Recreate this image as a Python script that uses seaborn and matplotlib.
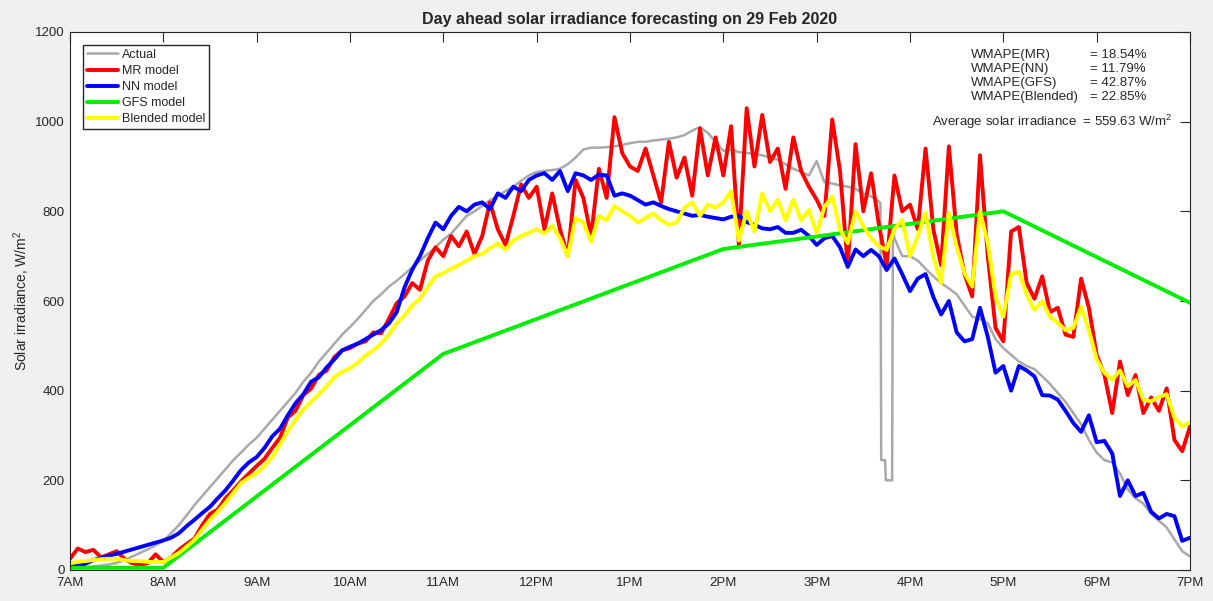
import numpy as np
import pandas as pd
import matplotlib
matplotlib.use("Agg")
import matplotlib.pyplot as plt
import seaborn as sns

# irradiance read every 5 minutes from 7AM to 7PM (W/m2), one row per hour
actual = [
    5, 5, 6, 8, 10, 12, 16, 22, 30, 38, 46, 55,
    65, 82, 100, 122, 145, 165, 185, 205, 225, 245, 262, 280,
    295, 315, 335, 355, 375, 395, 420, 440, 465, 485, 505, 525,
    542, 560, 580, 600, 615, 632, 645, 660, 675, 690, 705, 720,
    737, 750, 770, 790, 800, 812, 825, 835, 845, 855, 868, 880,
    888, 890, 892, 895, 905, 920, 938, 942, 942, 943, 945, 948,
    952, 955, 955, 958, 960, 962, 965, 970, 980, 988, 975, 955,
    935, 938, 932, 930, 928, 925, 920, 915, 905, 895, 888, 880,
    912, 865, 862, 858, 855, 850, 840, 833, 822, 200, 740, 700,
    700, 690, 672, 655, 640, 628, 615, 590, 565, 560, 550, 515,
    495, 480, 465, 455, 448, 432, 415, 395, 375, 350, 325, 290,
    262, 245, 240, 215, 180, 160, 148, 125, 110, 95, 68, 42,
    30,
]
mr_model = [
    25, 48, 40, 45, 28, 35, 42, 25, 15, 12, 15, 35,
    18, 28, 45, 58, 70, 100, 125, 135, 160, 178, 198, 215,
    232, 248, 272, 295, 340, 355, 390, 405, 435, 445, 475, 490,
    495, 505, 510, 530, 528, 560, 595, 610, 640, 625, 690, 720,
    700, 745, 722, 755, 705, 745, 820, 760, 725, 790, 860, 830,
    855, 760, 840, 760, 700, 870, 830, 745, 895, 830, 1010, 930,
    900, 890, 940, 880, 820, 955, 875, 920, 835, 985, 880, 965,
    880, 990, 725, 1030, 900, 1015, 910, 940, 850, 965, 890, 855,
    826, 790, 1005, 890, 680, 950, 800, 885, 770, 680, 880, 800,
    815, 760, 940, 760, 680, 945, 750, 660, 610, 925, 700, 540,
    510, 755, 765, 640, 605, 655, 575, 585, 525, 520, 650, 585,
    480, 435, 350, 465, 390, 435, 350, 385, 355, 405, 290, 265,
    320,
]
nn_model = [
    8, 10, 14, 22, 27, 32, 36, 41, 46, 51, 56, 61,
    66, 72, 82, 98, 112, 127, 141, 160, 178, 200, 223, 240,
    252, 272, 298, 315, 345, 372, 392, 420, 430, 452, 470, 490,
    498, 505, 515, 525, 535, 550, 575, 630, 670, 700, 740, 775,
    760, 790, 810, 800, 815, 820, 805, 840, 830, 855, 845, 870,
    880, 885, 870, 890, 845, 885, 880, 870, 882, 880, 835, 840,
    835, 825, 815, 820, 812, 805, 800, 795, 790, 792, 788, 785,
    782, 788, 790, 776, 770, 762, 760, 765, 752, 752, 759, 745,
    725, 740, 745, 720, 676, 715, 700, 714, 700, 669, 695, 660,
    622, 650, 660, 609, 570, 600, 530, 510, 515, 585, 520, 440,
    455, 400, 455, 445, 432, 390, 389, 380, 355, 328, 308, 345,
    285, 288, 260, 165, 200, 165, 172, 130, 115, 125, 120, 65,
    72,
]
blended_model = [
    15, 18, 20, 22, 24, 25, 25, 22, 20, 20, 18, 18,
    18, 28, 38, 52, 67, 90, 112, 130, 150, 172, 194, 206,
    216, 232, 252, 280, 310, 335, 358, 375, 392, 410, 430, 442,
    450, 462, 478, 490, 505, 525, 550, 568, 590, 605, 630, 655,
    662, 672, 680, 690, 700, 705, 718, 728, 715, 735, 745, 752,
    760, 750, 768, 740, 700, 785, 775, 732, 790, 780, 812, 800,
    790, 775, 785, 795, 780, 770, 775, 808, 820, 790, 815, 808,
    820, 845, 735, 800, 755, 840, 800, 826, 780, 826, 780, 803,
    752, 810, 833, 760, 729, 800, 766, 740, 722, 714, 760, 781,
    700, 745, 797, 699, 640, 797, 721, 662, 632, 800, 729, 609,
    565, 660, 665, 615, 580, 600, 565, 551, 535, 540, 587, 535,
    470, 440, 424, 445, 410, 424, 380, 376, 386, 392, 340, 320,
    330,
]

# short drop-out in the measured data around 3:45PM (minutes after 7AM)
dip_minutes = [521, 521.5, 524, 524.5, 528.5, 529]
dip_values = [818, 245, 245, 200, 200, 760]

# GFS forecast only has a few points over the day
gfs_hours = [7, 8, 11, 14, 17, 19]
gfs_model = [5, 5, 482, 716, 800, 596]

hour_labels = ['7AM', '8AM', '9AM', '10AM', '11AM', '12PM', '1PM',
               '2PM', '3PM', '4PM', '5PM', '6PM', '7PM']
wmape_names = ['MR', 'NN', 'GFS', 'Blended']
wmape_values = [18.54, 11.79, 42.87, 22.85]
avg_irradiance = 559.63

minutes = np.arange(0, 721, 5)
hours = 7 + minutes / 60

df_actual = pd.DataFrame({'hour': np.concatenate([hours, 7 + np.array(dip_minutes) / 60]),
                          'value': actual + dip_values}).sort_values('hour')
df_models = pd.DataFrame({'hour': hours, 'MR': mr_model, 'NN': nn_model,
                          'Blended': blended_model})
df_gfs = pd.DataFrame({'hour': gfs_hours, 'value': gfs_model})

sns.set_style("white")
plt.rcParams['font.family'] = ['Liberation Sans', 'DejaVu Sans']
plt.rcParams['mathtext.fontset'] = 'custom'
plt.rcParams['mathtext.rm'] = 'Liberation Sans'
plt.rcParams['mathtext.it'] = 'Liberation Sans:italic'

fig = plt.figure(figsize=(12.13, 6.01), dpi=100, facecolor='#f0f0f0')
ax = fig.add_axes([70 / 1213, 31 / 601, 1120 / 1213, 538 / 601])
ax.set_facecolor('white')

lw = 2.8
sns.lineplot(data=df_actual, x='hour', y='value', color='#a9a9a9', lw=1.8,
             label='Actual', ax=ax)
sns.lineplot(data=df_models, x='hour', y='MR', color='#ff0000', lw=lw,
             label='MR model', ax=ax)
sns.lineplot(data=df_models, x='hour', y='NN', color='#0000ff', lw=lw,
             label='NN model', ax=ax)
sns.lineplot(data=df_gfs, x='hour', y='value', color='#00ee00', lw=lw,
             label='GFS model', ax=ax)
sns.lineplot(data=df_models, x='hour', y='Blended', color='#ffff00', lw=lw,
             label='Blended model', ax=ax)

ax.set_xlim(7, 19)
ax.set_ylim(0, 1200)
ax.set_xticks(range(7, 20))
ax.set_xticklabels(hour_labels)
ax.set_yticks(range(0, 1201, 200))
ax.tick_params(direction='in', length=7, width=0.8, top=True, right=True,
               labelsize=9.5, colors='#262626')
ax.tick_params(axis='x', pad=5)
ax.tick_params(axis='y', pad=4)
for s in ax.spines.values():
    s.set_color('#262626')
    s.set_linewidth(0.8)

ax.set_xlabel('')
ax.set_ylabel('Solar irradiance, W/m$^2$', fontsize=10, color='#262626', labelpad=2)
ax.set_title('Day ahead solar irradiance forecasting on 29 Feb 2020',
             fontsize=11.5, fontweight='bold', color='#262626', pad=6)

ax.legend(loc='upper left', bbox_to_anchor=(13 / 1120, 1 - 13 / 538), borderaxespad=0,
          fontsize=9, frameon=True, fancybox=False, edgecolor='#262626', framealpha=1,
          handlelength=2.5, labelspacing=0.33, borderpad=0.3, handletextpad=0.3)

row_y = [0.957, 0.931, 0.905, 0.879]
for name, val, y in zip(wmape_names, wmape_values, row_y):
    ax.text(0.8045, y, f'WMAPE({name})', transform=ax.transAxes, fontsize=9.5,
            va='center', ha='left', color='#262626')
    ax.text(0.911, y, f'= {val:.2f}%', transform=ax.transAxes, fontsize=9.5,
            va='center', ha='left', color='#262626')
ax.text(0.7696, 0.832, f'Average solar irradiance  = {avg_irradiance:.2f} W/m$^2$',
        transform=ax.transAxes, fontsize=9.5, va='center', ha='left', color='#262626')

fig.savefig('out.png', dpi=100, facecolor=fig.get_facecolor())
